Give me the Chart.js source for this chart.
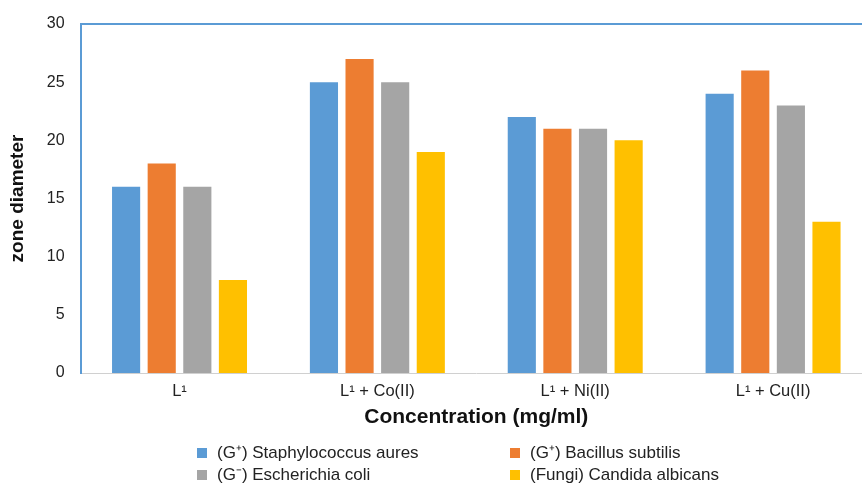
<!DOCTYPE html>
<html>
<head>
<meta charset="utf-8">
<script src="https://cdn.jsdelivr.net/npm/chart.js@4"></script>
<style>
  body { margin: 0; background: #fff; overflow: hidden; font-family: "Liberation Sans", Arial, sans-serif; }
  #wrap { position: relative; width: 872px; height: 484px; }
  #legend { position: absolute; left: 197px; top: 443px; width: 620px; font-size: 17px; line-height: 20px; color: #222; }
  .item { position: absolute; white-space: nowrap; }
  .box { display: inline-block; width: 10px; height: 10px; margin-right: 10px; }
</style>
</head>
<body>
<div id="wrap">
  <canvas id="myChart" width="872" height="484"></canvas>
  <div id="legend"></div>
</div>
<script>
var categories = ['L¹', 'L¹ + Co(II)', 'L¹ + Ni(II)', 'L¹ + Cu(II)'];
var seriesNames = ['(G⁺) Staphylococcus aures', '(G⁺) Bacillus subtilis', '(G⁻) Escherichia coli', '(Fungi) Candida albicans'];
var staph = [16, 25, 22, 24];
var bacillus = [18, 27, 21, 26];
var ecoli = [16, 25, 21, 23];
var candida = [8, 19, 20, 13];
var yTicks = [0, 5, 10, 15, 20, 25, 30];
var barColors = ['#5b9bd5', '#ed7d31', '#a5a5a5', '#ffc000'];

var allData = [staph, bacillus, ecoli, candida];
var datasets = [];
for (var i = 0; i < allData.length; i++) {
  datasets.push({
    label: seriesNames[i],
    data: allData[i],
    backgroundColor: barColors[i],
    categoryPercentage: 0.72,
    barPercentage: 0.79
  });
}

// top blue frame line
var topLine = {
  id: 'topLine',
  afterDraw: function (chart) {
    var c = chart.ctx, a = chart.chartArea;
    c.save();
    c.strokeStyle = '#5b9bd5';
    c.lineWidth = 2;
    c.beginPath();
    c.moveTo(a.left, a.top);
    c.lineTo(a.right + 10, a.top);
    c.stroke();
    c.restore();
  }
};

new Chart('myChart', {
  type: 'bar',
  data: { labels: categories, datasets: datasets },
  options: {
    responsive: false,
    animation: false,
    layout: { padding: { left: 4, top: 0, right: 0, bottom: 54 } },
    plugins: { legend: { display: false }, tooltip: { enabled: false } },
    scales: {
      x: {
        grid: { display: false, drawTicks: false },
        border: { color: '#d0d0d0', width: 1 },
        ticks: { color: '#222', font: { family: 'Liberation Sans', size: 16.5 }, padding: 9 },
        title: { display: true, text: 'Concentration (mg/ml)', color: '#111', font: { family: 'Liberation Sans', size: 21, weight: 'bold' }, padding: { top: -6, bottom: 0 } }
      },
      y: {
        min: 0, max: 30,
        afterBuildTicks: function (axis) { axis.ticks = yTicks.map(function (v) { return { value: v }; }); },
        grid: { display: false, drawTicks: false },
        border: { color: '#5b9bd5', width: 2 },
        ticks: { color: '#222', font: { family: 'Liberation Sans', size: 16, lineHeight: 1 }, padding: 16 },
        title: { display: true, text: 'zone diameter', color: '#111', font: { family: 'Liberation Sans', size: 19, weight: 'bold' }, padding: { top: 2, bottom: 2 } }
      }
    }
  },
  plugins: [topLine]
});

var pos = [[0, 0], [313, 0], [0, 22], [313, 22]];
var legend = document.getElementById('legend');
for (var j = 0; j < seriesNames.length; j++) {
  var d = document.createElement('div');
  d.className = 'item';
  d.style.left = pos[j][0] + 'px';
  d.style.top = pos[j][1] + 'px';
  d.innerHTML = '<span class="box" style="background:' + barColors[j] + '"></span>' + seriesNames[j];
  legend.appendChild(d);
}
</script>
</body>
</html>
